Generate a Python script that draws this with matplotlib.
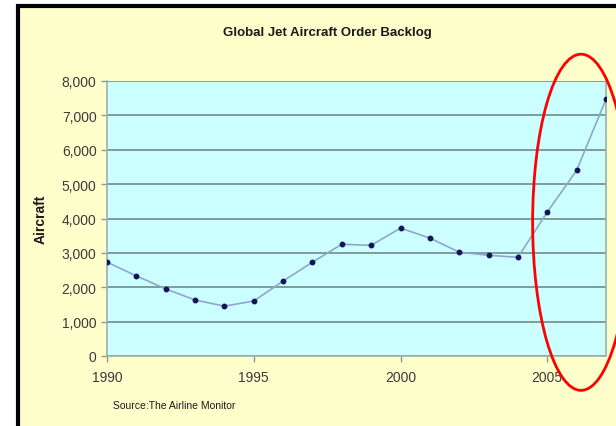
import matplotlib.pyplot as plt
import matplotlib.ticker as mticker
from matplotlib.patches import Rectangle, Ellipse

plt.rcParams['font.family'] = ['Liberation Sans', 'DejaVu Sans']

# backlog values
anos = [1990, 1991, 1992, 1993, 1994, 1995, 1996, 1997, 1998, 1999,
        2000, 2001, 2002, 2003, 2004, 2005, 2006, 2007]
backlog = [2730, 2330, 1950, 1630, 1450, 1600, 2180, 2730, 3250, 3220,
           3720, 3430, 3020, 2930, 2870, 4190, 5400, 7470]
xticks = [1990, 1995, 2000, 2005]
yticks = [0, 1000, 2000, 3000, 4000, 5000, 6000, 7000, 8000]

fig = plt.figure(figsize=(6.16, 4.27), dpi=100)
fig.patch.set_facecolor('white')

# yellow chart area with black frame
fundo = Rectangle((17.5 / 616, -0.1), 1.1, 1.0 + 0.1 - 6.5 / 427,
                  transform=fig.transFigure, facecolor='#FFFFCC',
                  edgecolor='black', linewidth=3, zorder=-5)
fig.patches.append(fundo)

ax = fig.add_axes([107 / 616, 1 - 357 / 427, (606 - 107) / 616, (357 - 82) / 427])
ax.set_zorder(2)
ax.set_facecolor('#CCFFFF')

ax.plot(anos, backlog, color='#8FA6CC', linewidth=1.2, zorder=3)
ax.plot(anos, backlog, 'o', color='#14145A', markersize=3.2, zorder=4)

ax.set_xlim(1990, 2007)
ax.set_ylim(0, 8000)
ax.set_xticks(xticks)
ax.set_yticks(yticks)
ax.yaxis.set_major_formatter(mticker.FuncFormatter(lambda v, p: f'{int(v):,}'))
ax.grid(True, axis='y', color='#7E9C9C', linewidth=1.4)
ax.set_axisbelow(True)

for lado in ['left', 'bottom', 'right']:
    ax.spines[lado].set_color('#9AAFAF')
    ax.spines[lado].set_linewidth(1.2)
ax.spines['top'].set_visible(False)
ax.tick_params(axis='both', colors='#8A9A9A', length=4, width=1,
               labelcolor='#3A3A3A', labelsize=10)
ax.tick_params(axis='x', pad=6)

fig.text(327 / 616, 1 - 33 / 427, 'Global Jet Aircraft Order Backlog',
         ha='center', va='center', fontsize=9.5, fontweight='bold', color='#1A1A1A')
ax.set_ylabel('Aircraft', fontsize=10, fontweight='bold', color='#1A1A1A', labelpad=10)
fig.text(113 / 616, 1 - 406 / 427, 'Source:The Airline Monitor',
         ha='left', va='center', fontsize=7.5, color='#1A1A1A')

# red ellipse highlighting the recent jump
elipse = Ellipse((2006.15, 3890), 3.3, 9780, fill=False, edgecolor='#FF0000',
                 linewidth=2, clip_on=False, zorder=6)
ax.add_patch(elipse)

fig.savefig('out.png', dpi=100)
